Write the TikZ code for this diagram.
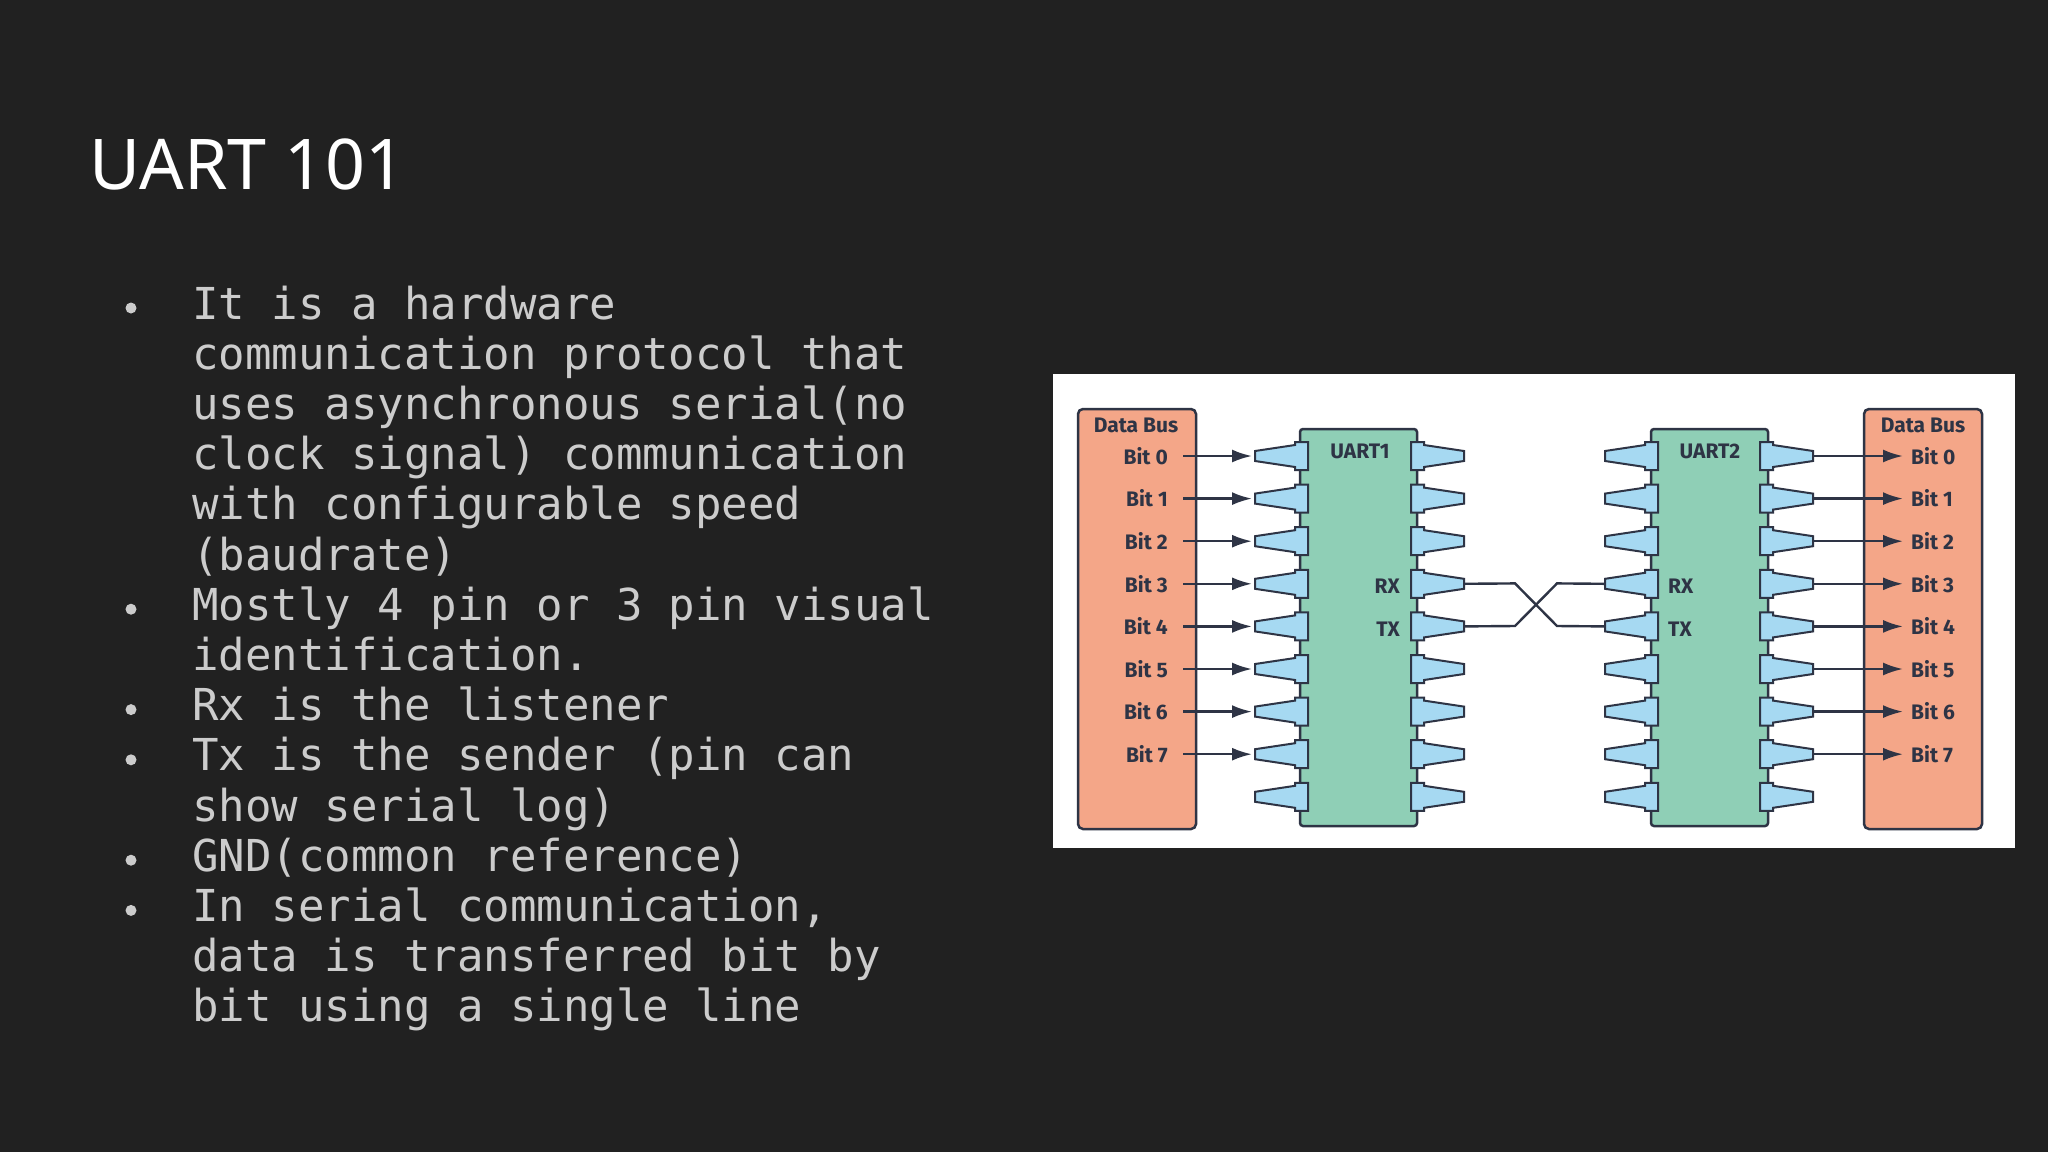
\documentclass[tikz,border=0pt]{standalone}
\usepackage{fontspec}
\setmainfont{Noto Sans}
\newfontfamily\monof{DejaVu Sans Mono}
\newfontfamily\diagf{Fira Sans}
\usetikzlibrary{arrows.meta}
\definecolor{bg}{HTML}{212121}
\definecolor{txt}{HTML}{CCCCCC}
\definecolor{dk}{HTML}{2E3445}
\definecolor{salmon}{HTML}{F4A688}
\definecolor{grn}{HTML}{8FCFB6}
\definecolor{pinb}{HTML}{A6D9F2}
\tikzset{
  x=1pt,y=-1pt,
  bul/.style={anchor=base west,text=txt,font=\monof\fontsize{44}{50}\selectfont,inner sep=0},
  lbl/.style={text=dk,font=\diagf\bfseries\fontsize{21}{24}\selectfont,inner sep=0},
  box/.style={draw=dk,line width=2.5pt,rounded corners=5pt},
  wire/.style={draw=dk,line width=2.4pt},
  arr/.style={wire,-{Latex[length=20pt,width=13pt]}},
  pin/.style={fill=pinb,draw=dk,line width=2pt,line join=miter}
}
\newcommand{\lpin}[2]{%
  \draw[pin] (#1-40,#2-5) -- (#1,#2-11) -- (#1,#2-14) -- (#1+13,#2-14) -- (#1+13,#2+14) -- (#1,#2+14) -- (#1,#2+11) -- (#1-40,#2+5) -- cycle;}
\newcommand{\rpin}[2]{%
  \draw[pin] (#1+53,#2-5) -- (#1+13,#2-11) -- (#1+13,#2-14) -- (#1,#2-14) -- (#1,#2+14) -- (#1+13,#2+14) -- (#1+13,#2+11) -- (#1+53,#2+5) -- cycle;}
\begin{document}
\begin{tikzpicture}
\fill[bg] (0,0) rectangle (2048,1152);
\useasboundingbox (0,0) rectangle (2048,1152);
\node[anchor=base west,text=white,font=\fontsize{70}{80}\selectfont,inner sep=0] (title) at (89,189) {UART 101};
\foreach \t [count=\i from 0] in {It is a hardware,communication protocol that,uses asynchronous serial(no,clock signal) communication,with configurable speed,(baudrate),Mostly 4 pin or 3 pin visual,identification.,Rx is the listener,Tx is the sender (pin can,show serial log),GND(common reference),{In serial communication,},data is transferred bit by,bit using a single line}
  \node[bul] (l\i) at (192,{319+50.2*\i}) {\t};
\foreach \i in {0,6,8,9,11,12}
  \fill[txt] (131,{319+50.2*\i-11}) circle (5.5);
\fill[white] (1053,374) rectangle (2015,848);
\draw[box,fill=salmon] (1078,409) rectangle (1196,829);
\draw[box,fill=salmon] (1864,409) rectangle (1982,829);
\node[lbl] (db1) at (1136,425) {Data Bus};
\node[lbl] (db2) at (1923,425) {Data Bus};
\draw[box,fill=grn,rounded corners=3pt] (1300,429) rectangle (1417,826);
\draw[box,fill=grn,rounded corners=3pt] (1651,429) rectangle (1768,826);
\foreach \k in {0,...,8}{
  \pgfmathsetmacro\yy{456+42.6*\k}
  \lpin{1295}{\yy}
  \rpin{1411}{\yy}
  \lpin{1645}{\yy}
  \rpin{1760}{\yy}
  \coordinate (a\k) at (1252,\yy);
  \coordinate (b\k) at (1464,\yy);
  \coordinate (c\k) at (1604,\yy);
  \coordinate (d\k) at (1813,\yy);
}
\foreach \k in {0,...,7}{
  \node[lbl,anchor=east] (lb\k) at (1168,{456+42.6*\k}) {Bit \k};
  \node[lbl,anchor=west] (rb\k) at (1911,{456+42.6*\k}) {Bit \k};
  \draw[arr] (lb\k.east) ++(15,0) -- (a\k);
  \draw[arr,shorten >=8pt] (d\k) -- (rb\k.west);
}
\node[lbl] (u1) at (1360,451) {UART1};
\node[lbl] (u2) at (1710,451) {UART2};
\node[lbl,anchor=east] (rx1) at (1400,586) {RX};
\node[lbl,anchor=east] (tx1) at (1400,629) {TX};
\node[lbl,anchor=west] (rx2) at (1668,586) {RX};
\node[lbl,anchor=west] (tx2) at (1668,629) {TX};
\draw[wire] (b3) -- (1515,583.4) -- (1557,626) -- (c4);
\draw[wire] (b4) -- (1515,626) -- (1557,583.4) -- (c3);
\end{tikzpicture}
\end{document}
